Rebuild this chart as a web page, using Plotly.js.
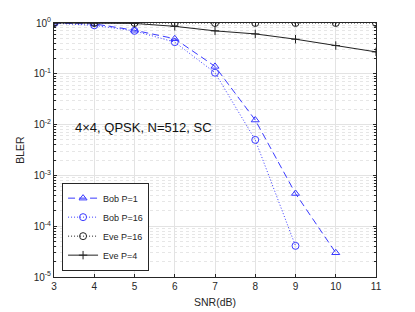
<!DOCTYPE html>
<html><head><meta charset="utf-8">
<script src="https://cdn.plot.ly/plotly-3.0.1.min.js"></script>
<style>html,body{margin:0;padding:0;background:#fff}#chart{width:415px;height:312px}</style>
</head><body><div id="chart"></div>
<script>
var snr = [3, 4, 5, 6, 7, 8, 9, 10, 11];
var bobP1_x = [3, 4, 5, 6, 7, 8, 9, 10];
var bobP1_y = [0.99, 0.96, 0.72, 0.49, 0.14, 0.0123, 0.00044, 0.00003];
var bobP16_x = [3, 4, 5, 6, 7, 8, 9];
var bobP16_y = [0.99, 0.9, 0.7, 0.42, 0.105, 0.005, 0.000041];
var eveP16_y = [1, 1, 1, 1, 1, 1, 1, 1, 1];
var eveP4_y = [1, 1, 0.98, 0.86, 0.7, 0.61, 0.48, 0.36, 0.27];
var yExponents = [0, -1, -2, -3, -4, -5];
var xTicks = [3, 4, 5, 6, 7, 8, 9, 10, 11];

var yTickVals = yExponents.map(function(e){ return Math.pow(10, e); });
var yTickText = yExponents.map(function(e){ return '10<sup>' + (e < 0 ? '-' + (-e) : e) + '</sup>'; });
var minorVals = [];
for (var d = -5; d < 0; d++) { for (var m = 2; m <= 9; m++) minorVals.push(m * Math.pow(10, d)); }

var blue = '#3a3aff';
var traces = [
  {x: bobP1_x, y: bobP1_y, name: 'Bob P=1', mode: 'lines+markers',
   line: {color: blue, width: 1, dash: '7px,4px'},
   marker: {symbol: 'triangle-up-open', size: 7, color: blue, line: {width: 1}}},
  {x: bobP16_x, y: bobP16_y, name: 'Bob P=16', mode: 'lines+markers',
   line: {color: blue, width: 1, dash: '1px,2px'},
   marker: {symbol: 'circle-open', size: 7, color: blue, line: {width: 1}}},
  {x: snr, y: eveP16_y, name: 'Eve P=16', mode: 'lines+markers',
   line: {color: '#222', width: 1, dash: '1px,2px'},
   marker: {symbol: 'circle-open', size: 7, color: '#222', line: {width: 1}}},
  {x: snr, y: eveP4_y, name: 'Eve P=4', mode: 'lines+markers',
   line: {color: '#222', width: 1},
   marker: {symbol: 'cross-thin-open', size: 6, color: '#222', line: {width: 1, color: '#222'}}}
];

var axisCommon = {
  showline: true, linecolor: '#262626', linewidth: 1, mirror: 'ticks',
  ticks: 'inside', ticklen: 3, tickcolor: '#262626',
  tickfont: {family: 'Liberation Sans, Arial, sans-serif', size: 10, color: '#262626'},
  gridcolor: '#e3e3e3', gridwidth: 1, zeroline: false
};

var layout = {
  width: 415, height: 312,
  margin: {l: 54, r: 39, t: 23, b: 35},
  paper_bgcolor: '#fff', plot_bgcolor: '#fff',
  showlegend: true,
  font: {family: 'Liberation Sans, Arial, sans-serif', color: '#262626'},
  xaxis: Object.assign({}, axisCommon, {
    range: [3, 11], tickmode: 'array', tickvals: xTicks,
    title: {text: 'SNR(dB)', font: {size: 10.5, color: '#262626'}, standoff: 7}
  }),
  yaxis: Object.assign({}, axisCommon, {
    type: 'log', range: [-5, 0],
    tickmode: 'array', tickvals: yTickVals, ticktext: yTickText,
    title: {text: 'BLER', font: {size: 10.5, color: '#262626'}, standoff: 6},
    minor: {tickmode: 'array', tickvals: minorVals, showgrid: true, gridcolor: '#e6e6e6',
            griddash: 'dot', ticks: 'inside', ticklen: 2, tickcolor: '#262626'}
  }),
  legend: {
    x: 0.025, y: 0.025, xanchor: 'left', yanchor: 'bottom',
    bgcolor: '#fff', bordercolor: '#262626', borderwidth: 1,
    font: {family: 'Liberation Sans, Arial, sans-serif', size: 9, color: '#262626'},
    tracegroupgap: 0, itemwidth: 30
  },
  annotations: [{
    x: 3.47, y: -2.05, xref: 'x', yref: 'y', xanchor: 'left', yanchor: 'middle',
    text: '4×4, QPSK, N=512, SC', showarrow: false,
    font: {family: 'Liberation Sans, Arial, sans-serif', size: 13, color: '#111'}
  }]
};

Plotly.newPlot('chart', traces, layout, {displayModeBar: false, staticPlot: true});
</script></body></html>
